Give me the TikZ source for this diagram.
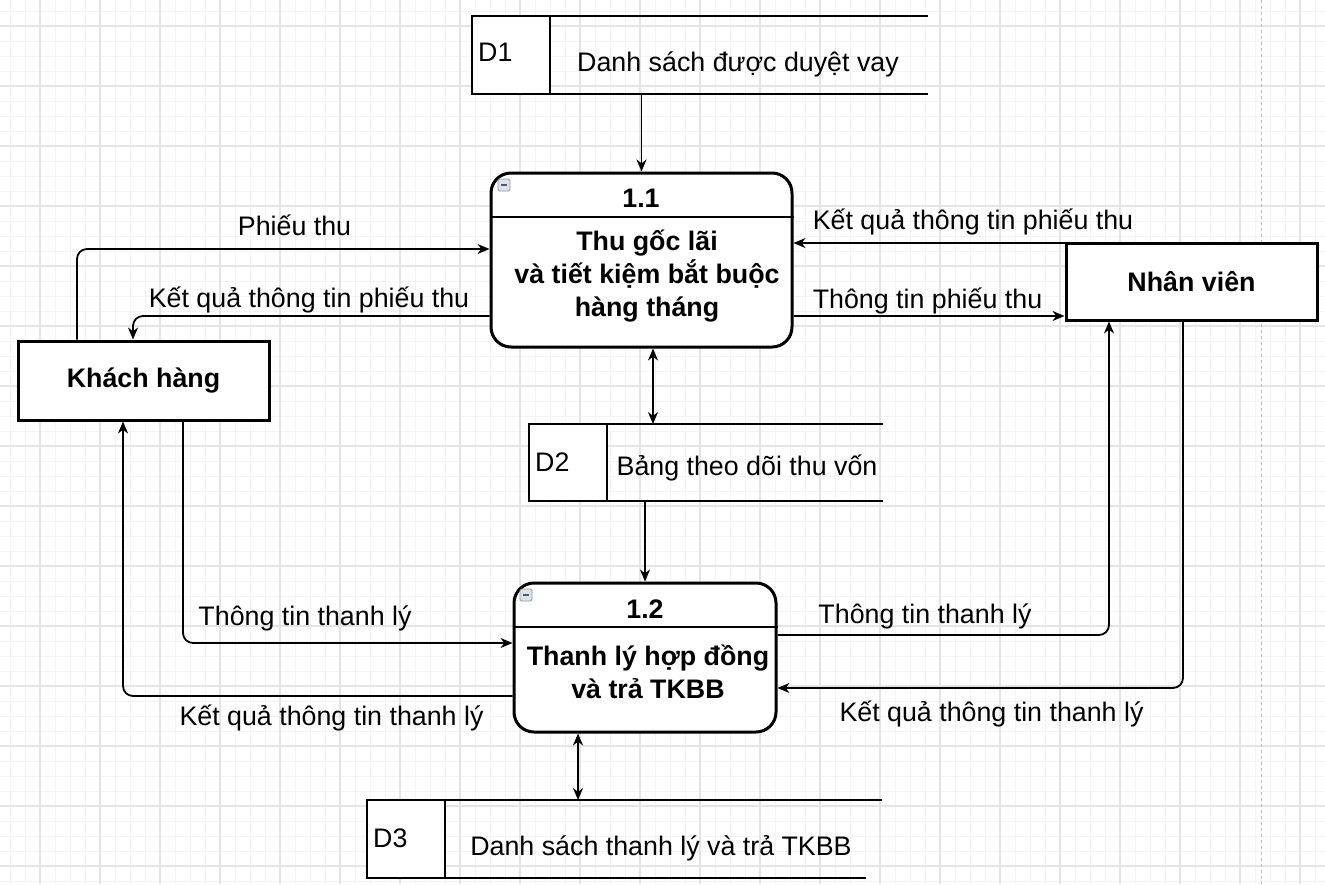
\documentclass[tikz,border=0pt]{standalone}
\usepackage{fontspec}
\setmainfont{Liberation Sans}
\usetikzlibrary{arrows.meta}

\definecolor{gridminor}{HTML}{F3F3F3}
\definecolor{gridmajor}{HTML}{E4E4E4}
\definecolor{pagedash}{HTML}{BDBDBD}
\definecolor{iconfill}{HTML}{DDE3EA}
\definecolor{iconline}{HTML}{8C98A5}

\tikzset{
  lbl/.style={font=\fontsize{26.8}{32.5}\selectfont, inner sep=0pt, text height=20pt, text depth=5.6pt},
  tip/.style={-{Stealth[length=12pt,width=10pt]}},
  flow/.style={line width=1.8pt, rounded corners=10pt, tip},
  both/.style={line width=1.8pt, {Stealth[length=12pt,width=10pt]}-{Stealth[length=12pt,width=10pt]}},
  entity/.style={draw, line width=3pt, fill=white, inner sep=0pt,
                 font=\bfseries\fontsize{26.8}{32.5}\selectfont},
  process/.style={draw, line width=3pt, rounded corners=20pt, fill=white, inner sep=0pt},
  ptitle/.style={font=\bfseries\fontsize{26.8}{33}\selectfont, inner sep=0pt, align=center},
  storearea/.style={inner sep=0pt, outer sep=0pt},
  storeid/.style={draw, line width=1.6pt, fill=white, inner sep=0pt, outer sep=0pt,
                  minimum width=78pt, minimum height=78pt},
  storeline/.style={line width=1.8pt},
  icon/.style={draw=iconline, fill=iconfill, minimum size=12pt, rounded corners=1.5pt,
               line width=0.8pt, inner sep=0pt},
}

\begin{document}
\begin{tikzpicture}[x=1pt, y=-1pt]
  % canvas and grid
  \fill[white] (0,0) rectangle (1325,884);
  \useasboundingbox (0,0) rectangle (1325,884);
  \foreach \x in {10,25,...,1320} \draw[gridminor, line width=1pt] (\x,0) -- (\x,884);
  \foreach \y in {11,26,...,881} \draw[gridminor, line width=1pt] (0,\y) -- (1325,\y);
  \foreach \x in {40,100,...,1300} \draw[gridmajor, line width=1.2pt] (\x,0) -- (\x,884);
  \foreach \y in {26,86,...,866} \draw[gridmajor, line width=1.2pt] (0,\y) -- (1325,\y);
  \draw[pagedash, line width=1pt, dash pattern=on 3pt off 3pt] (1261,0) -- (1261,884);

  % data stores
  \node[storearea, minimum width=456pt, minimum height=78pt] (d1) at (700,55) {};
  \node[storeid, anchor=west] (d1box) at (d1.west) {};
  \draw[storeline] ([xshift=-20pt]d1box.north east) -- (d1.north east);
  \draw[storeline] ([xshift=-20pt]d1box.south east) -- (d1.south east);
  \node[lbl, anchor=west] (d1code) at (478,54) {D1};
  \node[lbl] (d1name) at (738,64) {Danh sách được duyệt vay};

  \node[storearea, minimum width=354pt, minimum height=77pt] (d2) at (706,462.5) {};
  \node[storeid, minimum height=77pt, anchor=west] (d2box) at (d2.west) {};
  \draw[storeline] ([xshift=-20pt]d2box.north east) -- (d2.north east);
  \draw[storeline] ([xshift=-20pt]d2box.south east) -- (d2.south east);
  \node[lbl, anchor=west] (d2code) at (535,464) {D2};
  \node[lbl] (d2name) at (747,468) {Bảng theo dõi thu vốn};

  \node[storearea, minimum width=515pt, minimum height=78pt] (d3) at (624.5,839) {};
  \node[storeid, anchor=west] (d3box) at (d3.west) {};
  \draw[storeline] ([xshift=-20pt]d3box.north east) -- (d3.north east);
  \draw[storeline] ([xshift=-20pt]d3box.south east) -- ([xshift=-16pt]d3.south east);
  \node[lbl, anchor=west] (d3code) at (373,840) {D3};
  \node[lbl] (d3name) at (661,848) {Danh sách thanh lý và trả TKBB};

  % external entities
  \node[entity, minimum width=251pt, minimum height=79pt] (kh) at (143.5,380.5) {Khách hàng};
  \node[entity, minimum width=251pt, minimum height=77pt] (nv) at (1191.5,281.5) {Nhân viên};

  % processes
  \node[process, minimum width=301pt, minimum height=174pt] (p11) at (641.5,260) {};
  \draw[line width=2.2pt] ([yshift=43pt]p11.west) -- ([yshift=43pt]p11.east);
  \node[ptitle] (p11no) at (641,198) {1.1};
  \node[ptitle] (p11txt) at (647,276) {Thu gốc lãi\\ và tiết kiệm bắt buộc\\hàng tháng};
  \node[icon] (p11icon) at (504,185) {};
  \draw[line width=1.2pt, iconline!60!black] ([xshift=3pt]p11icon.west) -- ([xshift=-3pt]p11icon.east);

  \node[process, minimum width=262pt, minimum height=149pt] (p12) at (645,657.5) {};
  \draw[line width=2.2pt] ([yshift=30.5pt]p12.west) -- ([yshift=30.5pt]p12.east);
  \node[ptitle] (p12no) at (645,609) {1.2};
  \node[ptitle] (p12txt) at (648,672) {Thanh lý hợp đồng\\và trả TKBB};
  \node[icon] (p12icon) at (526,595) {};
  \draw[line width=1.2pt, iconline!60!black] ([xshift=3pt]p12icon.west) -- ([xshift=-3pt]p12icon.east);

  % data flows
  \draw[flow] (d1.south -| p11.north) -- (p11.north);
  \draw[both] ([xshift=11.5pt]p11.south) -- ([xshift=11.5pt]p11.south |- d2.north);
  \draw[flow] (d2.south -| p12.north) -- (p12.north);
  \draw[both] ([xshift=-67pt]p12.south) -- ([xshift=-67pt]p12.south |- d3.north);

  \draw[flow] ([xshift=-66.5pt]kh.north) |- ([yshift=11pt]p11.west);
  \draw[flow] ([yshift=-56pt]p11.west) -| ([xshift=-10.5pt]kh.north);
  \draw[flow] ([yshift=-1.5pt]nv.north west) -- ([yshift=-1.5pt]nv.north west -| p11.east);
  \draw[flow] ([yshift=-56pt]p11.east) -- ([yshift=-56pt]p11.east -| nv.west);

  \draw[flow] ([xshift=39.5pt]kh.south) |- ([yshift=14.5pt]p12.west);
  \draw[flow] ([yshift=-38.5pt]p12.west) -| ([xshift=-20.5pt]kh.south);
  \draw[flow] ([yshift=22.5pt]p12.east) -| ([xshift=-82.5pt]nv.south);
  \draw[flow] ([xshift=-8.5pt]nv.south) |- ([yshift=-30.5pt]p12.east);

  % flow labels
  \node[lbl] (l1) at (294.5,228) {Phiếu thu};
  \node[lbl] (l2) at (309,300) {Kết quả thông tin phiếu thu};
  \node[lbl] (l3) at (973,222) {Kết quả thông tin phiếu thu};
  \node[lbl] (l4) at (927.5,301) {Thông tin phiếu thu};
  \node[lbl] (l5) at (305,618) {Thông tin thanh lý};
  \node[lbl] (l6) at (331.5,718) {Kết quả thông tin thanh lý};
  \node[lbl] (l7) at (925,616) {Thông tin thanh lý};
  \node[lbl] (l8) at (991.5,714) {Kết quả thông tin thanh lý};
\end{tikzpicture}
\end{document}
